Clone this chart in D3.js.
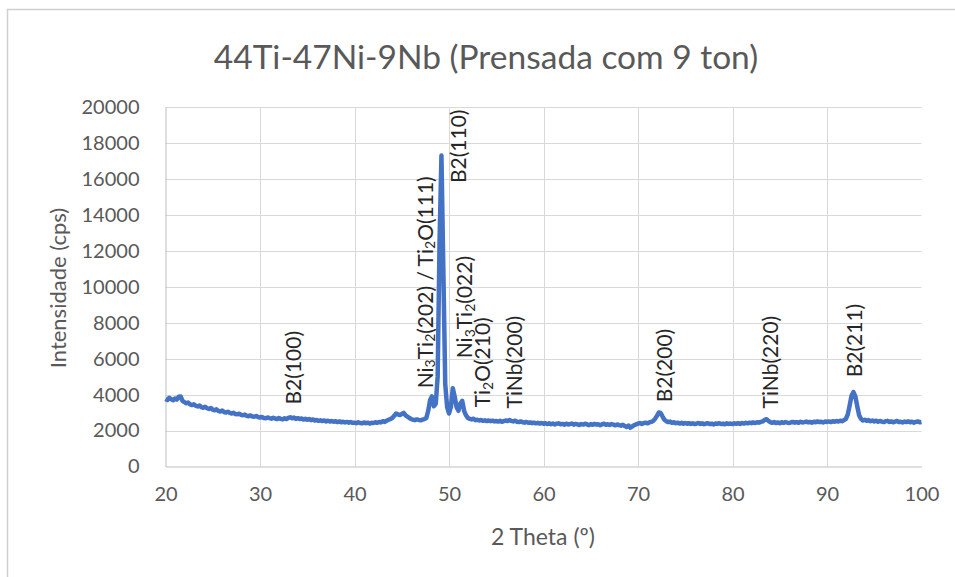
<!DOCTYPE html>
<html>
<head>
<meta charset="utf-8">
<script src="https://cdn.jsdelivr.net/npm/d3@7"></script>
<style>
  html, body { margin: 0; padding: 0; background: #ffffff; }
  svg { display: block; }
  text { font-family: Lato, "Open Sans", sans-serif; }
</style>
</head>
<body>
<svg id="chart" width="955" height="577"></svg>
<script>
// XRD scan: 2θ from 20° to 100°, 0.2° step, intensity in counts per second
const scanStart = 20;
const scanStep = 0.2;
const counts = [
  3760,3700,3820,3740,3690,3780,3720,3880,3900,3650,3580,3520,3560,3460,3420,3460,3380,3340,3390,3300,3270,3320,3240,3200,3250,
  3160,3130,3180,3090,3060,3110,3030,3000,3050,2980,2950,2990,2920,2900,2940,2870,2850,2890,2820,2800,2840,2780,2770,2810,2750,
  2720,2760,2700,2680,2730,2690,2660,2710,2670,2640,2700,2650,2620,2680,2640,2700,2740,2680,2720,2650,2690,2640,2670,2610,2650,
  2600,2640,2580,2620,2560,2590,2540,2570,2530,2560,2510,2550,2500,2530,2490,2520,2470,2510,2460,2490,2450,2480,2440,2470,2430,
  2440,2410,2460,2420,2400,2450,2410,2440,2390,2430,2420,2460,2430,2480,2450,2520,2480,2550,2600,2640,2700,2820,2950,2900,2860,
  2920,2980,2850,2780,2700,2640,2600,2580,2620,2590,2570,2610,2640,2700,3100,3700,3900,3350,3500,5000,12500,17300,11000,4600,3300,
  2950,3300,4350,3900,3300,3100,3500,3650,3100,2850,2700,2650,2620,2660,2580,2600,2560,2590,2540,2570,2530,2560,2520,2550,2510,
  2530,2500,2540,2490,2520,2560,2530,2580,2540,2510,2550,2490,2470,2510,2460,2440,2480,2430,2450,2410,2440,2400,2430,2390,2420,
  2380,2410,2360,2400,2350,2390,2340,2380,2400,2350,2370,2330,2380,2340,2360,2390,2330,2370,2340,2310,2360,2330,2380,2340,2300,
  2360,2320,2370,2330,2350,2300,2340,2380,2320,2350,2310,2360,2330,2290,2340,2300,2270,2320,2250,2200,2280,2160,2230,2300,2340,
  2380,2420,2370,2410,2440,2400,2450,2480,2530,2650,2820,3000,2980,2780,2600,2520,2470,2500,2430,2460,2410,2440,2390,2430,2380,
  2420,2380,2410,2370,2400,2360,2390,2420,2370,2400,2350,2390,2410,2360,2380,2340,2390,2370,2410,2360,2380,2350,2400,2370,2390,
  2360,2400,2380,2410,2370,2420,2390,2430,2400,2440,2410,2450,2420,2460,2440,2480,2510,2590,2630,2540,2470,2430,2470,2420,2450,
  2410,2460,2430,2470,2440,2420,2460,2480,2440,2470,2430,2490,2450,2470,2500,2460,2480,2440,2490,2460,2510,2470,2490,2450,2500,
  2480,2510,2470,2520,2490,2530,2500,2550,2520,2580,2650,2900,3400,3950,4140,3900,3350,2850,2650,2560,2600,2540,2580,2520,2560,
  2510,2550,2490,2530,2500,2470,2520,2540,2480,2510,2460,2500,2530,2470,2490,2450,2500,2470,2510,2460,2490,2440,2480,2510,2460,
  2480
];

// Peak identifications ("_n" marks a subscript digit)
const peakLabels = ["B2(100)", "Ni_3Ti_2(202) / Ti_2O(111)", "B2(110)", "Ni_3Ti_2(022)", "Ti_2O(210)", "TiNb(200)", "B2(200)", "TiNb(220)", "B2(211)"];
const peakLabelAngle = [33.4, 47.35, 50.85, 51.5, 53.4, 56.8, 72.65, 83.9, 92.7];
const peakLabelLevel = [3450, 4350, 15770, 6020, 3290, 3230, 3570, 3230, 4960];

const xTicks = [20, 30, 40, 50, 60, 70, 80, 90, 100];
const yTicks = [0, 2000, 4000, 6000, 8000, 10000, 12000, 14000, 16000, 18000, 20000];

const chartTitle = "44Ti-47Ni-9Nb (Prensada com 9 ton)";
const xTitle = "2 Theta (º)";
const yTitle = "Intensidade (cps)";

const scan = counts.map((c, i) => ({ angle: scanStart + i * scanStep, count: c }));

const svg = d3.select("#chart");
const plot = { left: 165.5, right: 921.5, top: 107, bottom: 466.5 };

const x = d3.scaleLinear().domain([20, 100]).range([plot.left, plot.right]);
const y = d3.scaleLinear().domain([0, 20000]).range([plot.bottom, plot.top]);

// Chart frame (top and left edges visible)
svg.append("path")
  .attr("d", "M7.5,577 L7.5,9.5 L955,9.5")
  .attr("fill", "none")
  .attr("stroke", "#d0d0d0")
  .attr("stroke-width", 1.5);

// Title
svg.append("text")
  .attr("x", 486).attr("y", 69)
  .attr("text-anchor", "middle")
  .attr("fill", "#595959")
  .attr("font-size", 33.5)
  .text(chartTitle);

// Gridlines
const grid = svg.append("g");
grid.selectAll("line.h").data(yTicks.filter(v => v > 0)).join("line")
  .attr("class", "h")
  .attr("x1", plot.left).attr("x2", plot.right)
  .attr("y1", d => Math.round(y(d)) + 0.5).attr("y2", d => Math.round(y(d)) + 0.5)
  .attr("stroke", "#d9d9d9").attr("stroke-width", 1);
grid.selectAll("line.v").data(xTicks.filter(v => v > 20 && v < 100)).join("line")
  .attr("class", "v")
  .attr("y1", plot.top).attr("y2", plot.bottom)
  .attr("x1", d => Math.round(x(d)) + 0.5).attr("x2", d => Math.round(x(d)) + 0.5)
  .attr("stroke", "#d9d9d9").attr("stroke-width", 1);

// Axes
const xAxis = d3.axisBottom(x).tickValues(xTicks).tickSize(0).tickPadding(20);
const yAxis = d3.axisLeft(y).tickValues(yTicks).tickSize(0).tickPadding(26).tickFormat(d3.format("d"));

const gx = svg.append("g").attr("transform", `translate(0,${plot.bottom})`).call(xAxis);
const gy = svg.append("g").attr("transform", `translate(${plot.left},0)`).call(yAxis);
[gx, gy].forEach(g => {
  g.select(".domain").attr("stroke", "#bfbfbf").attr("stroke-width", 1);
  g.selectAll("text").attr("fill", "#595959").attr("font-size", 20).attr("font-family", "Lato, sans-serif");
});

// Axis titles
svg.append("text")
  .attr("x", 543).attr("y", 545)
  .attr("text-anchor", "middle")
  .attr("fill", "#595959")
  .attr("font-size", 23)
  .text(xTitle);
svg.append("text")
  .attr("transform", "translate(66,288) rotate(-90)")
  .attr("text-anchor", "middle")
  .attr("fill", "#595959")
  .attr("font-size", 22)
  .text(yTitle);

// Diffractogram
svg.append("path")
  .datum(scan)
  .attr("fill", "none")
  .attr("stroke", "#4472c4")
  .attr("stroke-width", 4.5)
  .attr("stroke-linejoin", "round")
  .attr("d", d3.line().x(d => x(d.angle)).y(d => y(d.count)));

// Peak labels, rotated to read upward
const labels = svg.append("g");
peakLabels.forEach((lab, i) => {
  const t = labels.append("text")
    .attr("transform", `translate(${x(peakLabelAngle[i])},${y(peakLabelLevel[i])}) rotate(-90)`)
    .attr("dominant-baseline", "central")
    .attr("fill", "#262626")
    .attr("font-size", 21);
  const parts = lab.split(/_(\d)/);
  parts.forEach((p, k) => {
    if (p === "") return;
    if (k % 2 === 1) {
      t.append("tspan").attr("font-size", 14).attr("dy", 5.5).text(p);
    } else {
      const s = t.append("tspan").text(p);
      if (k > 0) s.attr("dy", -5.5);
    }
  });
});
</script>
</body>
</html>
